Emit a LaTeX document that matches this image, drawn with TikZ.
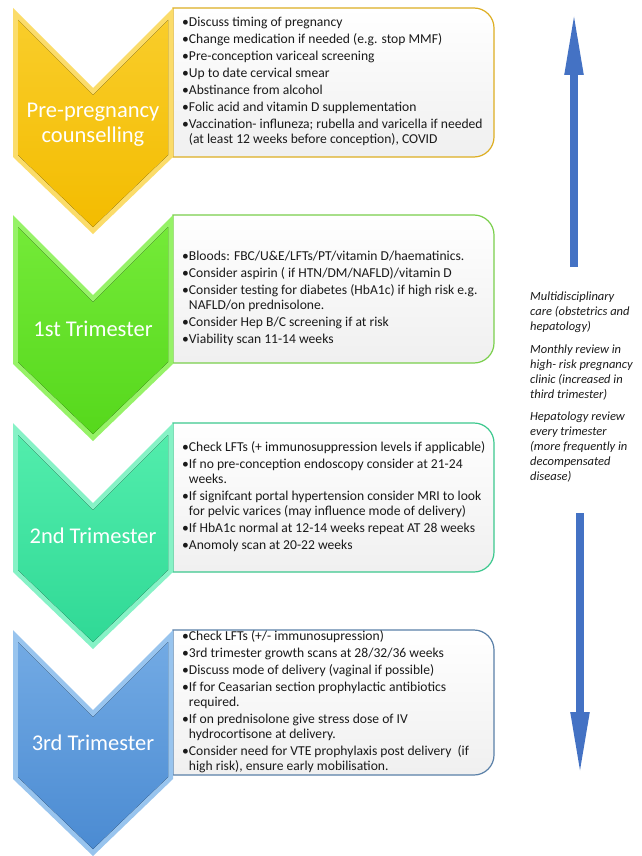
\documentclass[tikz,border=0pt]{standalone}
\usepackage{fontspec}
\setmainfont{Carlito}
\usetikzlibrary{arrows.meta}
\definecolor{yelA}{HTML}{FBDC6A}\definecolor{yelT}{HTML}{F9CD2A}\definecolor{yelB}{HTML}{F3BC00}\definecolor{yelE}{HTML}{DDAE22}
\definecolor{grnA}{HTML}{96F267}\definecolor{grnT}{HTML}{74EA38}\definecolor{grnB}{HTML}{56D81C}\definecolor{grnE}{HTML}{7ACF4C}
\definecolor{tealA}{HTML}{86F2C6}\definecolor{tealT}{HTML}{52EDAC}\definecolor{tealB}{HTML}{30D996}\definecolor{tealE}{HTML}{3CC88E}
\definecolor{bluA}{HTML}{98C4EE}\definecolor{bluT}{HTML}{72AAE4}\definecolor{bluB}{HTML}{4B8BD2}\definecolor{bluE}{HTML}{5A80A8}
\definecolor{arrowblue}{HTML}{4472C4}
\definecolor{txt}{HTML}{1A1A1A}
\tikzset{
  boxtext/.style={font=\fontsize{13.6}{17}\selectfont, align=left, inner sep=0pt, text=txt},
  sidetext/.style={font=\fontsize{12.5}{15}\selectfont\itshape, align=left, inner sep=0pt, text=txt},
  lab/.style={font=\fontsize{22.5}{25}\selectfont, text=white, align=center, inner sep=0pt},
  bigarrow/.style={draw=arrowblue, line width=8pt, -{Triangle[length=65pt,width=17pt]}},
  boxline/.style={line width=1.2pt, top color=white, bottom color=black!6}
}
% #1 top y, #2 box height, #3 bevel colour, #4 top colour, #5 bottom colour, #6 border colour
\newcommand\stagechev[6]{%
  \begin{scope}[shift={(0,#1)}]
    \draw[boxline, draw=#6] (173,0) -- (474,0) .. controls (485,0) and (494,9) .. (494,20)
      -- (494,{#2-20}) .. controls (494,{#2-9}) and (485,#2) .. (474,#2) -- (173,#2) -- cycle;
    \fill[#3] (13,0) -- (93,80) -- (173,0) -- (173,149) -- (93,226) -- (13,149) -- cycle;
    \fill[top color=#4, bottom color=#5] (18,12) -- (93,87) -- (168,12) -- (168,147) -- (93,219) -- (18,147) -- cycle;
  \end{scope}}
\begin{document}
\begin{tikzpicture}[x=1pt,y=-1pt]
\useasboundingbox (0,0) rectangle (641,856);
\fill[white] (0,0) rectangle (641,856);

\stagechev{8}{149}{yelA}{yelT}{yelB}{yelE}
\stagechev{215}{148}{grnA}{grnT}{grnB}{grnE}
\stagechev{423}{149}{tealA}{tealT}{tealB}{tealE}
\stagechev{630}{145}{bluA}{bluT}{bluB}{bluE}

\node[lab] (l1) at (93,125) {Pre-pregnancy\\counselling};
\node[lab] (l2) at (93,329) {1st Trimester};
\node[lab] (l3) at (93,536) {2nd Trimester};
\node[lab] (l4) at (93,743) {3rd Trimester};

\node[boxtext, anchor=north west] (t1) at (182,17) {%
•Discuss timing of pregnancy\\
•Change medication if needed (e.g. stop MMF)\\
•Pre-conception variceal screening\\
•Up to date cervical smear\\
•Abstinance from alcohol\\
•Folic acid and vitamin D supplementation\\
•Vaccination- influneza; rubella and varicella if needed\\[-2pt]
\hphantom{•}(at least 12 weeks before conception), COVID};

\node[boxtext, anchor=north west] (t2) at (182,251) {%
•Bloods: FBC/U\&E/LFTs/PT/vitamin D/haematinics.\\
•Consider aspirin ( if HTN/DM/NAFLD)/vitamin D\\
•Consider testing for diabetes (HbA1c) if high risk e.g.\\[-2pt]
\hphantom{•}NAFLD/on prednisolone.\\
•Consider Hep B/C screening if at risk\\
•Viability scan 11-14 weeks};

\node[boxtext, anchor=north west] (t3) at (182,441) {%
•Check LFTs (+ immunosuppression levels if applicable)\\
•If no pre-conception endoscopy consider at 21-24\\[-2pt]
\hphantom{•}weeks.\\
•If signifcant portal hypertension consider MRI to look\\[-2pt]
\hphantom{•}for pelvic varices (may influence mode of delivery)\\
•If HbA1c normal at 12-14 weeks repeat AT 28 weeks\\
•Anomoly scan at 20-22 weeks};

\node[boxtext, anchor=north west] (t4) at (182,630) {%
•Check LFTs (+/- immunosupression)\\
•3rd trimester growth scans at 28/32/36 weeks\\
•Discuss mode of delivery (vaginal if possible)\\
•If for Ceasarian section prophylactic antibiotics\\[-2pt]
\hphantom{•}required.\\
•If on prednisolone give stress dose of IV\\[-2pt]
\hphantom{•}hydrocortisone at delivery.\\
•Consider need for VTE prophylaxis post delivery\ \ (if\\[-2pt]
\hphantom{•}high risk), ensure early mobilisation.};

\node[sidetext, anchor=north west] (side) at (530,292) {%
Multidisciplinary\\ care (obstetrics and\\ hepatology)\\[7.5pt]
Monthly review in\\ high- risk pregnancy\\ clinic (increased in\\ third trimester)\\[7.5pt]
Hepatology review\\ every trimester\\ (more frequently in\\ decompensated\\ disease)};

\coordinate (upTail) at (574,267);
\coordinate (upHead) at (574,10);
\coordinate (dnTail) at (580,513);
\coordinate (dnHead) at (580,777);
\draw[bigarrow] (upTail) -- (upHead);
\draw[bigarrow] (dnTail) -- (dnHead);
\end{tikzpicture}
\end{document}
